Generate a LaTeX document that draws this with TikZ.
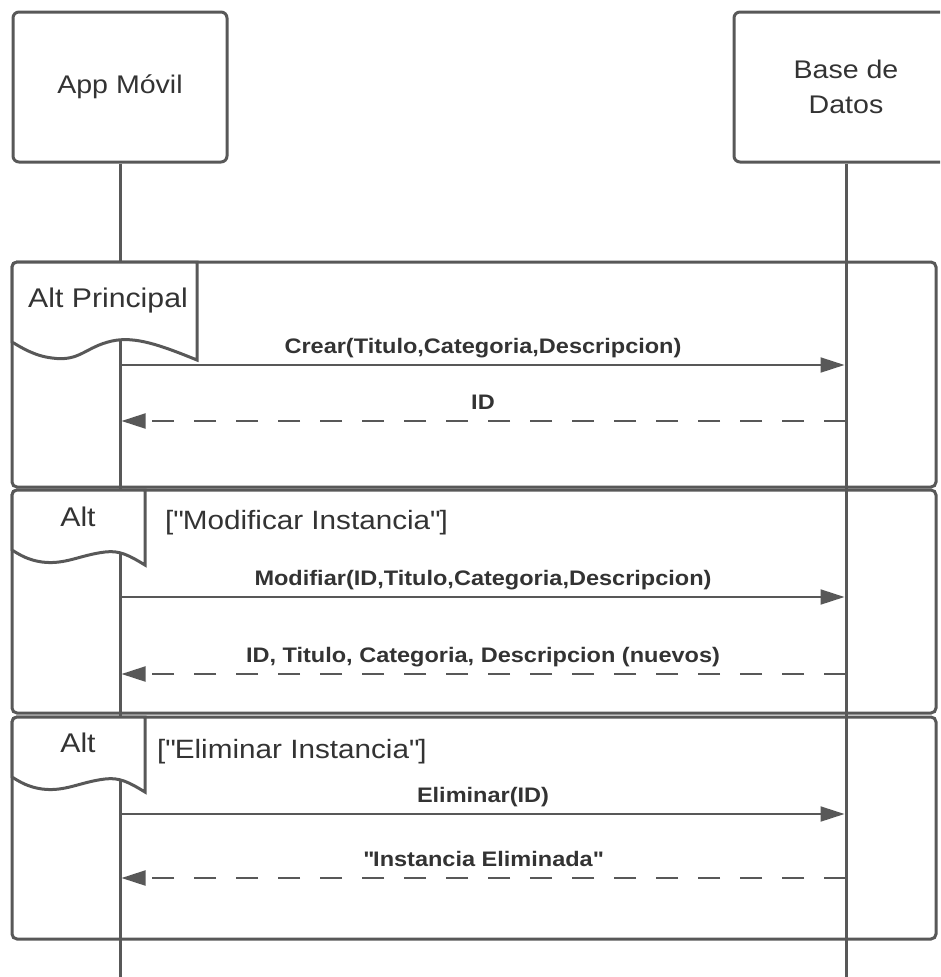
\documentclass[tikz,border=0pt]{standalone}
\usepackage{fontspec}
\setmainfont[FakeStretch=1.12]{Liberation Sans}
\usetikzlibrary{arrows.meta}
\definecolor{linegray}{RGB}{88,88,88}
\definecolor{txtgray}{RGB}{51,51,51}

\tikzset{
  participant/.style={draw=linegray, line width=3pt, rounded corners=6pt, minimum height=150pt, align=center, text=txtgray, font=\fontsize{25.5}{35}\selectfont},
  lifeline/.style={draw=linegray, line width=3pt},
  frame/.style={draw=linegray, line width=3pt, rounded corners=5pt},
  tab/.style={draw=linegray, line width=3pt, fill=white},
  tabtext/.style={text=txtgray, font=\fontsize{27}{30}\selectfont, anchor=base, inner sep=0pt},
  guard/.style={text=txtgray, font=\fontsize{26.5}{30}\selectfont, anchor=base west, inner sep=0pt},
  call/.style={draw=linegray, line width=2pt, -{Triangle[length=24pt,width=15pt]}, shorten >=1.5pt},
  reply/.style={call, dash pattern=on 22pt off 20pt},
  msglabel/.style={text=txtgray, font=\bfseries\fontsize{21}{25}\selectfont, anchor=base, yshift=12pt, inner sep=0pt}
}

\begin{document}
\begin{tikzpicture}[x=1pt, y=-1pt]
\useasboundingbox (0,0) rectangle (940,977);
\clip (0,0) rectangle (940,977);

\node[participant, minimum width=214pt] (app) at (120,87) {App Móvil};
\node[participant, minimum width=224pt] (db) at (846,87) {Base de\\Datos};

\draw[frame] (12,262) rectangle (936,487);
\draw[frame] (12,490) rectangle (936,713);
\draw[frame] (12,717) rectangle (936,939);

\coordinate (append) at (120,980);
\coordinate (dbend) at (846,980);
\draw[lifeline] (app.south) -- (append);
\draw[lifeline] (db.south) -- (dbend);

\draw[tab] (12,342) [rounded corners=5pt] -- (12,262) [sharp corners] -- (197,262) -- (197,360)
  .. controls (160,345) and (135,336) .. (112,341) .. controls (85,347) and (80,362) .. (52,358)
  .. controls (35,356) and (22,348) .. (12,342) -- cycle;
\draw[tab] (12,550) [rounded corners=5pt] -- (12,490) [sharp corners] -- (145,490) -- (145,565)
  .. controls (130,556) and (120,550) .. (105,552) .. controls (80,555) and (65,565) .. (42,562)
  .. controls (28,560) and (20,555) .. (12,550) -- cycle;
\draw[tab] (12,777) [rounded corners=5pt] -- (12,717) [sharp corners] -- (145,717) -- (145,792)
  .. controls (130,783) and (120,777) .. (105,779) .. controls (80,782) and (65,792) .. (42,789)
  .. controls (28,787) and (20,782) .. (12,777) -- cycle;

\node[tabtext] (alt1) at (108,307) {Alt Principal};
\node[tabtext] (alt2) at (78,526) {Alt};
\node[tabtext] (alt3) at (78,752) {Alt};
\node[guard] (g2) at (165,529) {[\textquotedbl Modificar Instancia\textquotedbl]};
\node[guard] (g3) at (157,758) {[\textquotedbl Eliminar Instancia\textquotedbl]};

\foreach \n/\y in {1/365, 2/421, 3/597, 4/674, 5/814, 6/878} {
  \coordinate (a\n) at (120,\y);
  \coordinate (d\n) at (846,\y);
}

\draw[call] (a1) -- (d1) node[msglabel, midway] {Crear(Titulo,Categoria,Descripcion)};
\draw[reply] (d2) -- (a2) node[msglabel, midway] {ID};
\draw[call] (a3) -- (d3) node[msglabel, midway] {Modifiar(ID,Titulo,Categoria,Descripcion)};
\draw[reply] (d4) -- (a4) node[msglabel, midway] {ID, Titulo, Categoria, Descripcion (nuevos)};
\draw[call] (a5) -- (d5) node[msglabel, midway] {Eliminar(ID)};
\draw[reply] (d6) -- (a6) node[msglabel, midway] {\textquotedbl Instancia Eliminada\textquotedbl};
\end{tikzpicture}
\end{document}
